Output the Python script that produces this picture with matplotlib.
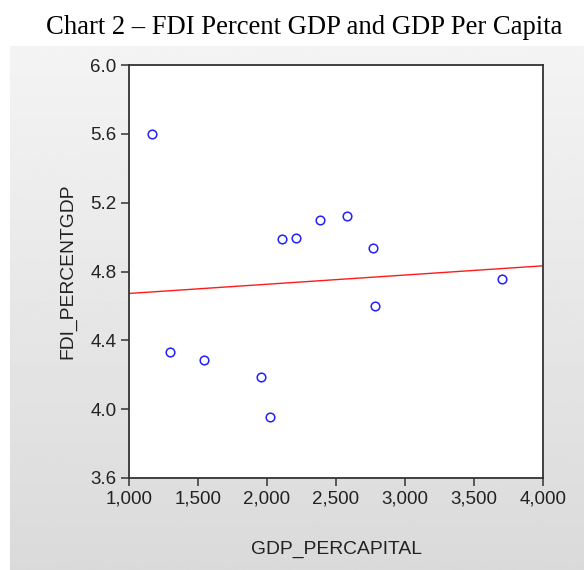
import numpy as np
import matplotlib.pyplot as plt

# GDP per capita vs FDI as percent of GDP
gdp_percapital = [1165, 1296, 1542, 1955, 2020, 2107, 2208, 2382, 2578, 2767, 2786, 3700]
fdi_percentgdp = [5.60, 4.33, 4.285, 4.186, 3.953, 4.988, 4.994, 5.099, 5.122, 4.934, 4.600, 4.754]

x_ticks = [1000, 1500, 2000, 2500, 3000, 3500, 4000]
y_ticks = [3.6, 4.0, 4.4, 4.8, 5.2, 5.6, 6.0]

W, H = 584, 570
fig = plt.figure(figsize=(W / 100, H / 100), dpi=100)
fig.patch.set_facecolor('white')

# grey gradient panel behind the plot
bg = fig.add_axes([10 / W, 0, 1 - 10 / W, (H - 46) / H])
grad = np.linspace(0.955, 0.855, 256).reshape(-1, 1)
bg.imshow(grad, aspect='auto', cmap='gray', vmin=0, vmax=1, extent=[0, 1, 0, 1])
bg.set_axis_off()

fig.text(304 / W, 1 - 27 / H, 'Chart 2 \u2013 FDI Percent GDP and GDP Per Capita',
         family='Liberation Serif', fontsize=19.2, ha='center', va='center', color='black')

ax = fig.add_axes([129 / W, 1 - 478 / H, (543 - 129) / W, (478 - 65) / H])
ax.set_facecolor('white')

ax.plot(gdp_percapital, fdi_percentgdp, 'o', mfc='none', mec='#2020ff',
        ms=6.2, mew=1.1, zorder=3)

# least squares fit line
b, a = np.polyfit(gdp_percapital, fdi_percentgdp, 1)
xs = np.array([1000, 4000])
ax.plot(xs, a + b * xs, color='#ff1a1a', lw=1.0, zorder=2)

ax.set_xlim(1000, 4000)
ax.set_ylim(3.6, 6.0)
ax.set_xticks(x_ticks)
ax.set_xticklabels([f'{v:,}' for v in x_ticks])
ax.set_yticks(y_ticks)
ax.set_yticklabels([f'{v:.1f}' for v in y_ticks])

for s in ax.spines.values():
    s.set_color('#333333')
    s.set_linewidth(1.3)

ax.tick_params(direction='out', length=6, width=1.1, color='#333333',
               labelsize=13.5, labelcolor='#222222', pad=3)
for lab in ax.get_xticklabels() + ax.get_yticklabels():
    lab.set_family('Liberation Sans')

ax.set_xlabel('GDP_PERCAPITAL', family='Liberation Sans', fontsize=13.9, color='#222222')
ax.set_ylabel('FDI_PERCENTGDP', family='Liberation Sans', fontsize=13.9, color='#222222')
ax.xaxis.set_label_coords(0.5, -0.153)
ax.yaxis.set_label_coords(-0.126, 0.5)

fig.savefig('out.png', dpi=100)
